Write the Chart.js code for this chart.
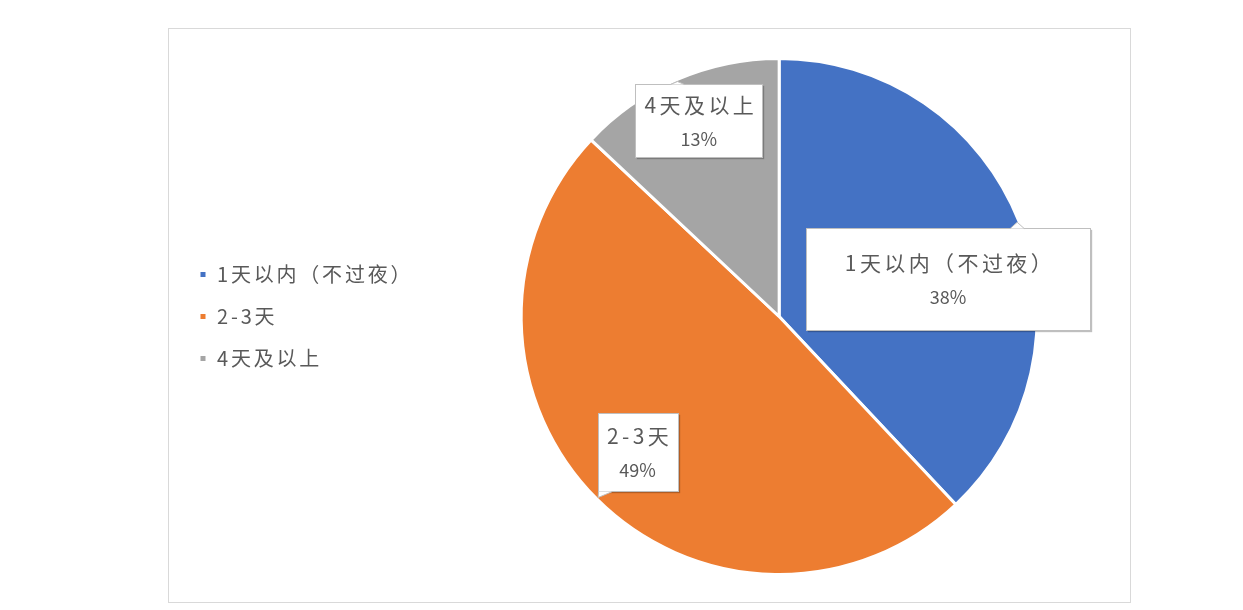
<!DOCTYPE html>
<html>
<head>
<meta charset="utf-8">
<script src="https://cdn.jsdelivr.net/npm/chart.js@4/dist/chart.umd.min.js"></script>
<style>
  body { margin: 0; background: #fff; }
  #box {
    position: absolute; left: 168px; top: 28px;
    width: 963px; height: 575px;
    border: 1px solid #d9d9d9; box-sizing: border-box;
  }
  #wrap { position: absolute; left: 0; top: 0; width: 970px; height: 573px; }
  canvas { display: block; }
</style>
</head>
<body>
<div id="box"><div id="wrap"><canvas id="pie"></canvas></div></div>
<script>
// ============================================================
// DATA
// ============================================================

const categories = ["1天以内（不过夜）", "2-3天", "4天及以上"];
const shares = [38, 49, 13];
const colors = ["#4472C4", "#ED7D31", "#A5A5A5"];

// label box placement per slice (angle shift in degrees, radius fraction, box w/h)
const labelStyle = [
  { shift: 9.2, frac: 0.67, w: 284, h: 102 },
  { shift: 1.2, frac: 0.76, w: 80, h: 78 },
  { shift: 1.1, frac: 0.82, w: 127, h: 73 }
];

const FONT = "'Noto Sans CJK SC', 'Noto Sans', sans-serif";


// ============================================================
// LETTER SPACING (wide office-style text)
// ============================================================

const spacing = {
  id: "spacing",
  beforeInit(chart) { chart.ctx.letterSpacing = "2.8px"; },
  beforeUpdate(chart) { chart.ctx.letterSpacing = "2.8px"; },
  beforeDraw(chart) { chart.ctx.letterSpacing = "2.8px"; }
};


// ============================================================
// CALLOUT LABELS
// ============================================================

function drawTail(ctx, x0, y0, w, h, tx, ty) {
  if (tx > x0 && tx < x0 + w && ty > y0 && ty < y0 + h) return;
  const half = 7;
  let a, b;
  if (ty < y0 || ty > y0 + h) {
    const ey = ty < y0 ? y0 : y0 + h;
    const bx = Math.min(Math.max(tx, x0 + half), x0 + w - half);
    a = [bx - half, ey]; b = [bx + half, ey];
  } else {
    const ex = tx < x0 ? x0 : x0 + w;
    const by = Math.min(Math.max(ty, y0 + half), y0 + h - half);
    a = [ex, by - half]; b = [ex, by + half];
  }
  ctx.beginPath();
  ctx.moveTo(a[0], a[1]);
  ctx.lineTo(tx, ty);
  ctx.lineTo(b[0], b[1]);
  ctx.closePath();
  ctx.fillStyle = "#fff";
  ctx.fill();
  ctx.beginPath();
  ctx.moveTo(a[0], a[1]);
  ctx.lineTo(tx, ty);
  ctx.lineTo(b[0], b[1]);
  ctx.strokeStyle = "#bfbfbf";
  ctx.lineWidth = 1;
  ctx.stroke();
}

const calloutLabels = {
  id: "calloutLabels",
  afterDatasetsDraw(chart) {
    const ctx = chart.ctx;
    const meta = chart.getDatasetMeta(0);
    const total = shares.reduce((s, v) => s + v, 0);

    meta.data.forEach((arc, i) => {
      const st = labelStyle[i];
      const mid = (arc.startAngle + arc.endAngle) / 2;
      const pos = mid + st.shift * Math.PI / 180;
      const r = arc.outerRadius * st.frac;
      const cx = arc.x + Math.cos(pos) * r;
      const cy = arc.y + Math.sin(pos) * r;
      const x0 = Math.round(cx - st.w / 2) + 0.5;
      const y0 = Math.round(cy - st.h / 2) + 0.5;

      ctx.save();
      ctx.shadowColor = "rgba(0,0,0,0.25)";
      ctx.shadowOffsetX = 1.5;
      ctx.shadowOffsetY = 1.5;
      ctx.shadowBlur = 1;
      ctx.fillStyle = "#fff";
      ctx.fillRect(x0, y0, st.w, st.h);
      ctx.restore();

      ctx.save();
      ctx.strokeStyle = "#bfbfbf";
      ctx.lineWidth = 1;
      ctx.strokeRect(x0, y0, st.w, st.h);

      // small pointer to the outer edge of the slice
      const tx = arc.x + Math.cos(mid) * (arc.outerRadius - 2);
      const ty = arc.y + Math.sin(mid) * (arc.outerRadius - 2);
      drawTail(ctx, x0, y0, st.w, st.h, tx, ty);

      ctx.fillStyle = "#595959";
      ctx.letterSpacing = "3.4px";
      ctx.font = "21px " + FONT;
      ctx.textAlign = "center";
      ctx.textBaseline = "middle";
      ctx.fillText(categories[i], cx + 2, cy - 16);
      const pct = Math.round(shares[i] / total * 100) + "%";
      ctx.letterSpacing = "0px";
      ctx.font = "18px " + FONT;
      ctx.fillText(pct, cx, cy + 18);
      ctx.restore();
    });
  }
};


// ============================================================
// CHART
// ============================================================

new Chart(document.getElementById("pie"), {
  type: "pie",
  data: {
    labels: categories,
    datasets: [{
      data: shares,
      backgroundColor: colors,
      borderColor: "#fff",
      borderWidth: 3
    }]
  },
  options: {
    responsive: true,
    maintainAspectRatio: false,
    animation: false,
    layout: { padding: { left: 8, right: 4, top: 28, bottom: 26 } },
    plugins: {
      tooltip: { enabled: false },
      legend: {
        position: "left",
        labels: {
          boxWidth: 8,
          boxHeight: 8,
          padding: 22,
          color: "#595959",
          font: { family: FONT, size: 20 }
        }
      }
    }
  },
  plugins: [spacing, calloutLabels]
});
</script>
</body>
</html>
